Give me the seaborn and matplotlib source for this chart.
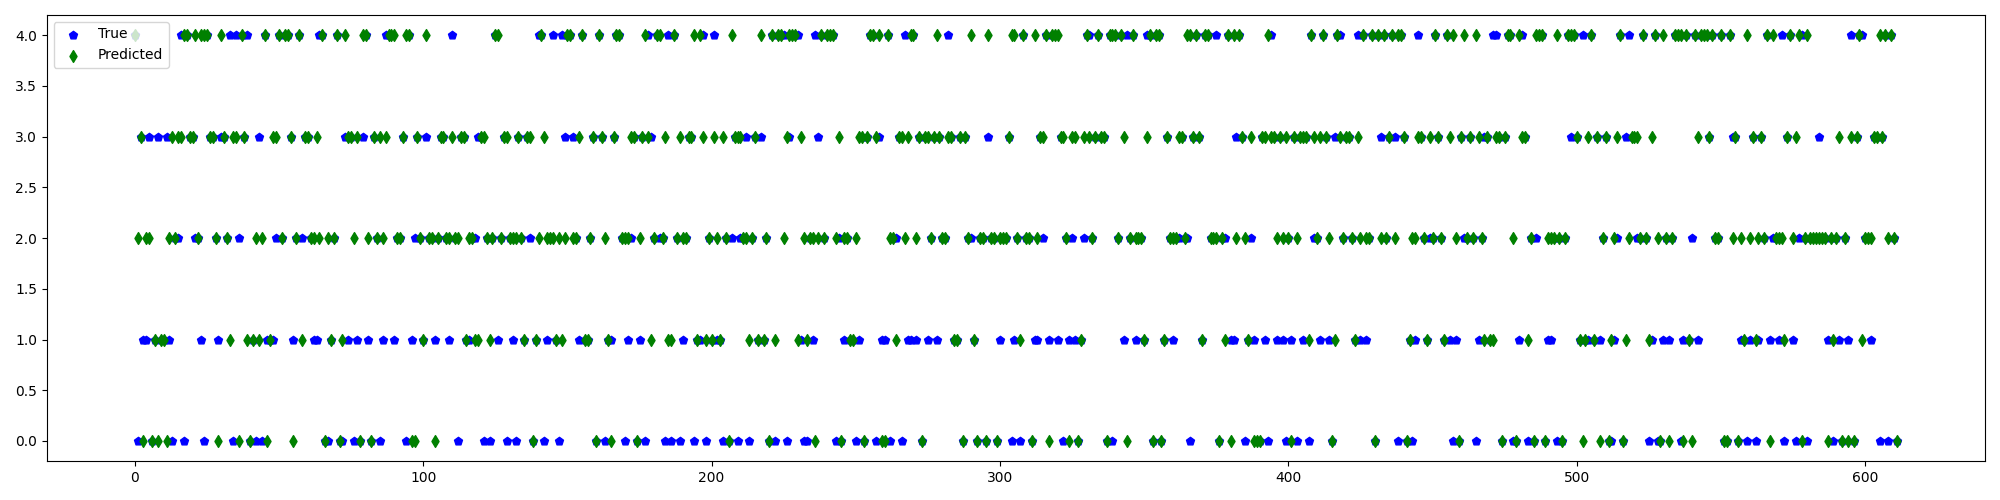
"""
plot.py - true vs predicted class per sample (pentagons vs thin diamonds)
Writes out.png, 2000x500.
"""

import numpy as np
import matplotlib
matplotlib.use("Agg")  # no display in the sandbox
import matplotlib.pyplot as plt
import seaborn as sns

# class labels per sample, 10 samples per string
TRUE_ROWS = [
    "4031130131", "1310224043", "3221043321", "3324042434", "0103041112",
    "4244312423", "3211440012", "4003130103", "4103201444", "1223041232",
    "1322123321", "4203311223", "3020241230", "2103213201", "4401241043",
    "4432141123", "0430113442", "0123013043", "2422040420", "1233011402",
    "1411020230", "2230231312", "0404440344", "4100214342", "4440201211",
    "0130344031", "1402230411", "4130312313", "2243113032", "2102203220",
    "1223012042", "2011324144", "1302121012", "4423433040", "4241424122",
    "1440440132", "1223220343", "1442240224", "1134301210", "0310431310",
    "2130313042", "2143103442", "3321414124", "0434234304", "3010143212",
    "2432141010", "3223201233", "1443034400", "1430202440", "1120202434",
    "3141141312", "3001240343", "3224201400", "1212440141", "2414443422",
    "4004330110", "1301324122", "1403410242", "0222322120", "2102140344",
    "2213303404", "20",
]

PRED_ROWS = [
    "4230220101", "1023233443", "3424443320", "4321330431", "0121240133",
    "4244302413", "3223240212", "4014332304", "4203232344", "4223440032",
    "1422023322", "3223312211", "3321244233", "2223213301", "2432221212",
    "4422341123", "0432103442", "2233023431", "2442311423", "2233414312",
    "1321320433", "3221231412", "0414423444", "1321220242", "4442302211",
    "2330344340", "0422133234", "4230332343", "2233113032", "4102204220",
    "2223442142", "2042334044", "4332033013", "4323433044", "4243024222",
    "1340440132", "2233244343", "1442220214", "0424321300", "0334332323",
    "2032333143", "2343201432", "3321324224", "0424234244", "3012233213",
    "2432143420", "3423243213", "1133034420", "4331204440", "2224202444",
    "3101341302", "3012340123", "3324213420", "4202444041", "0434443422",
    "4004230214", "2312324042", "2213423402", "4222222021", "2302030341",
    "2223343424", "20",
]

Y_TICKS = [0.0, 0.5, 1.0, 1.5, 2.0, 2.5, 3.0, 3.5, 4.0]

y_true = [int(c) for c in "".join(TRUE_ROWS)]
y_pred = [int(c) for c in "".join(PRED_ROWS)]
x = np.arange(len(y_true))

fig, ax = plt.subplots(figsize=(20, 5))

sns.scatterplot(x=x, y=y_true, marker="p", color="blue", edgecolor="blue",
                s=36, linewidth=1, label="True", ax=ax)
sns.scatterplot(x=x, y=y_pred, marker="d", color="green", edgecolor="green",
                s=36, linewidth=1, label="Predicted", ax=ax)

ax.set_yticks(Y_TICKS)
ax.legend(loc="upper left")

fig.tight_layout()
fig.savefig("out.png", dpi=100)
